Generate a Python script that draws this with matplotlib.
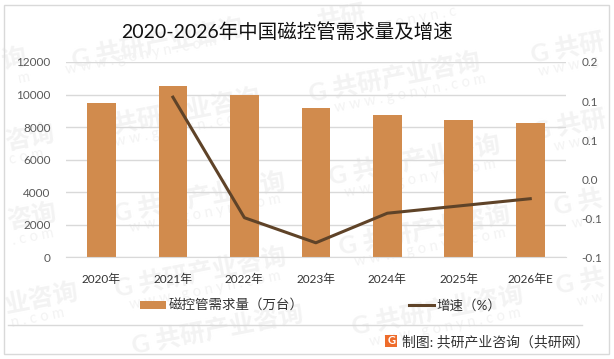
import matplotlib.pyplot as plt
from matplotlib.patches import Rectangle

WIDTH = 614
HEIGHT = 359

YEARS = ['2020年', '2021年', '2022年', '2023年', '2024年', '2025年', '2026年E']
DEMAND = [9500, 10500, 10000, 9200, 8750, 8450, 8250]
GROWTH = [float('nan'), 0.137, -0.079, -0.124, -0.071, -0.058, -0.045]
LEFT_TICKS = [0, 2000, 4000, 6000, 8000, 10000, 12000]
RIGHT_TICKS = [-0.15, -0.08, -0.01, 0.06, 0.13, 0.20]
RIGHT_LABELS = ['-0.1', '-0.1', '0.0', '0.1', '0.1', '0.2']

# watermark pieces: text, centre in pixels from the top left corner
WM_FULL = 'G 共研产业咨询'
WM_URL = 'w w w . g o n y n . c o m'
WATERMARK_TEXT = [(WM_FULL, 158, 43), (WM_FULL, 175, 113), (WM_FULL, 200, 197), (WM_FULL, 201, 272),
                  (WM_FULL, 395, 77), (WM_FULL, 415, 160), (WM_FULL, 425, 230), (WM_FULL, 438, 310),
                  (WM_FULL, 218, 329), ('G 共研', 568, 48), ('G 共研', 570, 125), ('G 共', 578, 203),
                  ('G 共', 580, 282), ('询', 14, 59), ('咨询', 30, 138), ('咨询', 32, 217),
                  ('业咨询', 42, 298), ('共研', 342, 18)]
WATERMARK_URL = [(WM_URL, 141, 55), (WM_URL, 175, 130), (WM_URL, 205, 213), (WM_URL, 205, 290),
                 (WM_URL, 410, 93), (WM_URL, 420, 178), (WM_URL, 430, 247), (WM_URL, 445, 327),
                 ('w w w . g', 568, 66), ('w w w', 575, 143), ('w w', 585, 222), ('w w', 590, 300),
                 ('m', 24, 78), ('c o m', 26, 157), ('. c o m', 33, 237), ('n . c o m', 38, 318),
                 ('g o n y n . c', 420, 18)]

plt.rcParams['font.family'] = ['Lato', 'Noto Sans CJK SC', 'DejaVu Sans']


def fx(px):
    return px / WIDTH


def fy(px):
    return 1 - px / HEIGHT


fig = plt.figure(figsize=(WIDTH / 100, HEIGHT / 100), dpi=100, facecolor='white')

for label, cx, cy in WATERMARK_TEXT:
    fig.text(fx(cx), fy(cy), label, fontsize=18, fontweight='bold', color='#f3f3f3',
             rotation=11, ha='center', va='center', rotation_mode='anchor', zorder=-2)
for label, cx, cy in WATERMARK_URL:
    fig.text(fx(cx), fy(cy), label, fontsize=10.5, color='#f3f3f3',
             rotation=11, ha='center', va='center', rotation_mode='anchor', zorder=-2)

# outer frame and footer rule
fig.add_artist(Rectangle((fx(3.5), fy(354)), fx(605), 349 / HEIGHT, transform=fig.transFigure,
                         fill=False, edgecolor='#d9d9d9', linewidth=1))
fig.add_artist(plt.Line2D([fx(8), fx(582)], [fy(325), fy(325)], color='#d9d9d9', linewidth=1))

ax = fig.add_axes([fx(65.7), fy(257.3), fx(500.3), 195.3 / HEIGHT])
ax.patch.set_alpha(0)
x = list(range(len(YEARS)))
bars = ax.bar(x, DEMAND, width=0.4, color='#d18b4d', zorder=2, label='磁控管需求量（万台）')
ax.set_xlim(-0.5, 6.5)
ax.set_ylim(0, 12000)
ax.set_yticks(LEFT_TICKS)
ax.set_xticks(x)
ax.set_xticklabels(YEARS, fontsize=8.5, color='#333333')
ax.tick_params(axis='y', length=0, labelsize=8.5, labelcolor='#595959', pad=11)
ax.tick_params(axis='x', length=0, pad=12)
ax.grid(axis='y', color='#d9d9d9', linewidth=1, zorder=1)
ax.set_axisbelow(True)
for side in ['top', 'left', 'right']:
    ax.spines[side].set_visible(False)
ax.spines['bottom'].set_color('#d9d9d9')

ax2 = ax.twinx()
ax2.patch.set_alpha(0)
line, = ax2.plot(x, GROWTH, color='#5f4328', linewidth=2.2, zorder=3, label='增速（%）')
ax2.set_ylim(-0.15, 0.2)
ax2.set_yticks(RIGHT_TICKS)
ax2.set_yticklabels(RIGHT_LABELS)
ax2.tick_params(axis='y', length=0, labelsize=8.5, labelcolor='#595959', pad=11)
for side in ['top', 'left', 'right', 'bottom']:
    ax2.spines[side].set_visible(False)

fig.text(fx(287.5), fy(32), '2020-2026年中国磁控管需求量及增速', fontsize=14, color='#111111',
         ha='center', va='center')

fig.legend(handles=[bars, line], loc='center', bbox_to_anchor=(fx(321), fy(305)), ncol=2,
           frameon=False, fontsize=9.7, handlelength=1.9, handleheight=0.6, handletextpad=0.2,
           columnspacing=7.8, labelcolor='#333333')

# footer logo and source
fig.add_artist(Rectangle((fx(385), fy(347)), fx(12.5), 12.5 / HEIGHT, transform=fig.transFigure,
                         facecolor='#ee6c2b', edgecolor='none'))
fig.text(fx(391.2), fy(340.8), 'G', fontsize=8, fontweight='bold', color='white',
         ha='center', va='center')
fig.text(fx(402), fy(342), '制图: 共研产业咨询（共研网）', fontsize=10, color='#333333',
         ha='left', va='center')

fig.savefig('out.png', dpi=100)
